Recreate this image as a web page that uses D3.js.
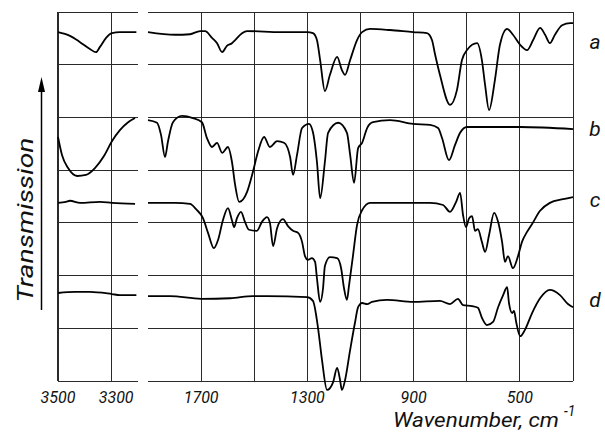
<!DOCTYPE html>
<html>
<head>
<meta charset="utf-8">
<script src="https://cdn.jsdelivr.net/npm/d3@7"></script>
<style>
  html, body { margin: 0; padding: 0; background: #fff; }
  svg { display: block; }
  text { font-family: Roboto, "DejaVu Sans", sans-serif; font-style: italic; fill: #111; }
</style>
</head>
<body>
<svg id="chart" width="605" height="438"></svg>
<script>
// ---- data (wavenumber cm^-1, transmission in chart divisions) ----
const seriesNames = ["a", "b", "c", "d"];
const leftTicks = [3500, 3300];
const rightTicks = [1700, 1300, 900, 500];
const leftGrid = [3500, 3300];
const rightGrid = [1700, 1500, 1300, 1100, 900, 700, 500, 300];
const rowLevels = [0, 1, 2, 3, 4, 5, 6, 7];

const specA = [
  [3500,6.62],[3455,6.55],[3417,6.43],[3380,6.30],[3357,6.24],[3342,6.34],[3319,6.51],[3297,6.60],[3267,6.62],[3205,6.62],
  [1900,6.62],[1798,6.57],[1742,6.58],[1704,6.64],[1685,6.64],[1659,6.51],[1640,6.41],[1621,6.24],[1603,6.36],[1584,6.41],
  [1572,6.47],[1546,6.60],[1527,6.64],[1400,6.62],[1301,6.62],[1279,6.60],[1264,6.47],[1252,6.09],[1234,5.50],[1215,5.81],
  [1188,6.15],[1170,5.90],[1158,5.81],[1139,6.09],[1113,6.47],[1094,6.62],[1064,6.68],[989,6.66],[902,6.62],[850,6.60],
  [831,6.47],[819,6.19],[801,5.81],[763,5.24],[737,5.52],[718,6.09],[699,6.28],[661,6.41],[643,6.09],[631,5.62],
  [616,5.14],[594,5.71],[575,6.38],[548,6.68],[526,6.57],[499,6.38],[473,6.28],[450,6.47],[424,6.70],[405,6.57],
  [387,6.41],[368,6.57],[341,6.75],[311,6.79],[300,6.79]
];
const specB = [
  [3500,4.63],[3485,4.29],[3462,4.04],[3428,3.89],[3395,3.91],[3361,4.04],[3327,4.27],[3297,4.55],[3267,4.76],[3236,4.91],[3210,4.99],
  [1900,4.95],[1866,4.90],[1851,4.67],[1836,4.25],[1825,4.54],[1806,4.91],[1772,5.03],[1731,4.99],[1697,4.91],[1678,4.61],
  [1659,4.44],[1640,4.52],[1621,4.33],[1599,4.44],[1584,4.16],[1572,3.72],[1557,3.40],[1527,3.59],[1505,3.97],[1486,4.35],
  [1463,4.63],[1441,4.44],[1414,4.55],[1388,4.52],[1365,4.25],[1354,3.91],[1339,4.29],[1320,4.80],[1294,4.88],[1279,4.72],
  [1264,4.16],[1252,3.47],[1234,4.16],[1222,4.71],[1184,4.90],[1151,4.71],[1139,4.29],[1124,3.76],[1109,4.42],[1094,4.52],
  [1075,4.80],[1053,4.91],[989,4.95],[902,4.88],[838,4.86],[808,4.80],[793,4.61],[767,4.19],[744,4.48],[725,4.71],
  [699,4.82],[499,4.82],[300,4.78]
];
const specC = [
  [3500,3.38],[3470,3.40],[3455,3.42],[3417,3.38],[3342,3.40],[3297,3.38],[3210,3.36],
  [1900,3.38],[1798,3.38],[1742,3.36],[1719,3.26],[1693,3.09],[1674,2.81],[1652,2.52],[1636,2.68],[1618,3.05],[1599,3.28],
  [1584,3.05],[1576,2.92],[1565,3.09],[1550,3.21],[1535,3.02],[1520,2.87],[1490,2.85],[1471,3.02],[1452,3.11],[1441,3.00],
  [1429,2.56],[1414,2.90],[1392,3.07],[1373,2.94],[1354,2.85],[1335,2.81],[1320,2.64],[1309,2.37],[1298,2.30],[1283,2.33],
  [1271,2.26],[1264,1.95],[1252,1.50],[1241,1.76],[1234,2.18],[1215,2.35],[1188,2.33],[1173,2.14],[1162,1.76],[1151,1.54],
  [1143,1.82],[1128,2.39],[1113,2.96],[1094,3.24],[1064,3.38],[989,3.38],[838,3.38],[789,3.34],[763,3.21],[740,3.40],
  [725,3.57],[714,3.15],[703,2.92],[691,3.09],[680,3.13],[669,2.85],[658,2.88],[643,2.64],[631,2.45],[616,2.77],
  [597,3.19],[582,3.02],[567,2.64],[556,2.26],[545,2.37],[526,2.14],[507,2.37],[492,2.64],[473,2.83],[454,2.98],
  [424,3.23],[387,3.38],[337,3.45],[300,3.49]
];
const specD = [
  [3500,1.67],[3436,1.69],[3380,1.69],[3297,1.65],[3267,1.63],[3205,1.63],
  [1900,1.61],[1817,1.61],[1700,1.56],[1591,1.57],[1505,1.61],[1452,1.61],[1301,1.59],[1279,1.52],[1260,1.01],[1245,0.40],
  [1226,-0.17],[1203,-0.02],[1188,0.25],[1177,0.02],[1170,-0.17],[1158,0.02],[1139,0.59],[1121,1.10],[1109,1.40],[1094,1.48],
  [1075,1.46],[1057,1.50],[1000,1.54],[902,1.50],[801,1.52],[763,1.46],[733,1.56],[714,1.44],[680,1.42],[658,1.39],
  [643,1.20],[624,1.06],[601,1.12],[582,1.40],[563,1.63],[548,1.78],[541,1.48],[529,1.29],[522,1.33],[514,1.12],
  [499,0.85],[481,0.97],[454,1.29],[424,1.57],[387,1.73],[349,1.63],[319,1.46],[300,1.40]
];
const spectra = [specA, specB, specC, specD];
const labelLevels = [6.4, 4.75, 3.4, 1.5];

// ---- scales ----
const svg = d3.select("#chart");
const xL = d3.scaleLinear().domain([3500, 3200]).range([58, 137.7]);
const xR = d3.scaleLinear().domain([1900, 300]).range([148, 573]);
const y = d3.scaleLinear().domain([0, 7]).range([381, 12.1]);

const gridColor = "#2a2a2a";
const g = svg.append("g").attr("shape-rendering", "crispEdges");

// horizontal grid
rowLevels.forEach(r => {
  g.append("line").attr("x1", xL(3500)).attr("x2", xL(3200)).attr("y1", y(r)).attr("y2", y(r))
    .attr("stroke", gridColor).attr("stroke-width", 1);
  g.append("line").attr("x1", xR(1900)).attr("x2", xR(300)).attr("y1", y(r)).attr("y2", y(r))
    .attr("stroke", gridColor).attr("stroke-width", 1);
});
// vertical grid
leftGrid.forEach((w, i) => {
  g.append("line").attr("x1", xL(w)).attr("x2", xL(w)).attr("y1", y(7)).attr("y2", y(0))
    .attr("stroke", gridColor).attr("stroke-width", i === 0 ? 2 : 1);
});
rightGrid.forEach(w => {
  g.append("line").attr("x1", xR(w)).attr("x2", xR(w)).attr("y1", y(7)).attr("y2", y(0))
    .attr("stroke", gridColor).attr("stroke-width", 1);
});

// curves
const lineL = d3.line().x(d => xL(d[0])).y(d => y(d[1])).curve(d3.curveMonotoneX);
const lineR = d3.line().x(d => xR(d[0])).y(d => y(d[1])).curve(d3.curveMonotoneX);
spectra.forEach(s => {
  svg.append("path").attr("d", lineL(s.filter(d => d[0] > 2500)))
    .attr("fill", "none").attr("stroke", "#000").attr("stroke-width", 1.8).attr("stroke-linejoin", "round");
  svg.append("path").attr("d", lineR(s.filter(d => d[0] <= 2500)))
    .attr("fill", "none").attr("stroke", "#000").attr("stroke-width", 1.8).attr("stroke-linejoin", "round");
});

// series labels
seriesNames.forEach((n, i) => {
  svg.append("text").attr("x", 595).attr("y", y(labelLevels[i])).attr("text-anchor", "middle")
    .attr("dominant-baseline", "middle").attr("font-size", 21).text(n);
});

// tick labels
leftTicks.forEach(t => {
  svg.append("text").attr("x", xL(t) + (t === 3300 ? 5 : 0)).attr("y", 403).attr("text-anchor", "middle")
    .attr("font-size", 16).text(t);
});
rightTicks.forEach(t => {
  svg.append("text").attr("x", xR(t)).attr("y", 403).attr("text-anchor", "middle")
    .attr("font-size", 16).text(t);
});

// axis titles
svg.append("text").attr("x", 393).attr("y", 427).attr("font-size", 21)
  .attr("textLength", 166).attr("lengthAdjust", "spacingAndGlyphs").text("Wavenumber, cm");
svg.append("text").attr("x", 564).attr("y", 416).attr("font-size", 14).text("-1");

svg.append("text").attr("transform", "translate(33,220) rotate(-90)").attr("text-anchor", "middle")
  .attr("font-size", 22).attr("textLength", 165).attr("lengthAdjust", "spacingAndGlyphs").text("Transmission");

// arrow
svg.append("line").attr("x1", 41.5).attr("x2", 41.5).attr("y1", 310).attr("y2", 88)
  .attr("stroke", "#000").attr("stroke-width", 1.5);
svg.append("path").attr("d", "M41.5,77 L38,92 L45,92 Z").attr("fill", "#000");
</script>
</body>
</html>
